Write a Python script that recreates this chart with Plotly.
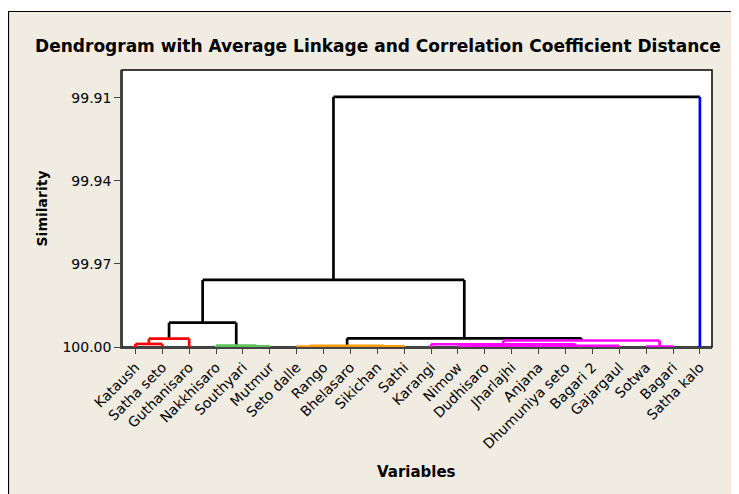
import plotly.graph_objects as go

# ---------------- data ----------------
leaves = ["Kataush", "Satha seto", "Guthanisaro", "Nakkhisaro", "Southyari", "Mutmur",
          "Seto dalle", "Rango", "Bhelasaro", "Sikichan", "Sathi", "Karangi", "Nimow",
          "Dudhisaro", "Jharlajhi", "Anjana", "Dhumuniya seto", "Bagari 2", "Gajargaul",
          "Sotwa", "Bagari", "Satha kalo"]
leaf_cluster = ["red"] * 3 + ["green"] * 3 + ["orange"] * 5 + ["magenta"] * 10 + ["blue"]

# merges (n0, n1, ...) : children and similarity level
merge_children = [
    ("Kataush", "Satha seto"),      # n0
    ("n0", "Guthanisaro"),          # n1
    ("Southyari", "Mutmur"),        # n2
    ("Nakkhisaro", "n2"),           # n3
    ("n1", "n3"),                   # n4
    ("Seto dalle", "Rango"),        # n5
    ("Bhelasaro", "Sikichan"),      # n6
    ("n6", "Sathi"),                # n7
    ("n5", "n7"),                   # n8
    ("Nimow", "Dudhisaro"),         # n9
    ("n9", "Jharlajhi"),            # n10
    ("Anjana", "Dhumuniya seto"),   # n11
    ("n11", "Bagari 2"),            # n12
    ("n10", "n12"),                 # n13
    ("n13", "Gajargaul"),           # n14
    ("Karangi", "n14"),             # n15
    ("Sotwa", "Bagari"),            # n16
    ("n15", "n16"),                 # n17
    ("n8", "n17"),                  # n18
    ("n4", "n18"),                  # n19
    ("n19", "Satha kalo"),          # n20
]
merge_similarity = [99.9989, 99.9970, 99.99975, 99.9995, 99.99123,
                    99.99985, 99.99985, 99.99975, 99.9996,
                    99.99985, 99.9998, 99.99985, 99.9998, 99.99975, 99.9996, 99.9990,
                    99.99985, 99.99765,
                    99.99686, 99.9758, 99.9097]
merge_cluster = ["red", "red", "green", "green", "black",
                 "orange", "orange", "orange", "orange",
                 "magenta", "magenta", "magenta", "magenta", "magenta", "magenta", "magenta",
                 "magenta", "magenta",
                 "black", "black", "black"]

y_tickvals = [99.91, 99.94, 99.97, 100.00]
y_ticktext = ["99.91", "99.94", "99.97", "100.00"]

palette = {"red": "#FF0000", "green": "#5DC35D", "orange": "#FF9A00",
           "magenta": "#FF00FF", "blue": "#0000FF", "black": "#000000"}

# ---------------- build dendrogram segments ----------------
pos = {name: i + 1 for i, name in enumerate(leaves)}
height = {name: 100.0 for name in leaves}
segs = {c: ([], []) for c in palette}

for k, ((a, b), s, col) in enumerate(zip(merge_children, merge_similarity, merge_cluster)):
    xa, xb = pos[a], pos[b]
    sx, sy = segs[col]
    sx += [xa, xb, None]
    sy += [s, s, None]
    for ch in (a, b):
        lc = leaf_cluster[leaves.index(ch)] if ch in leaves else col
        lx, ly = segs[lc]
        lx += [pos[ch], pos[ch], None]
        ly += [s, height[ch], None]
    name = "n%d" % k
    pos[name] = (xa + xb) / 2.0
    height[name] = s

fig = go.Figure()
for col in ["black", "red", "green", "orange", "magenta", "blue"]:
    xs, ys = segs[col]
    if xs:
        fig.add_trace(go.Scatter(x=xs, y=ys, mode="lines",
                                 line=dict(color=palette[col], width=2.7),
                                 hoverinfo="skip", showlegend=False))

FONT = "DejaVu Sans"
beige = "#F0ECE2"

# plot area in figure pixels
L, R, T, B = 114, 704, 62, 339
W_, H_ = R - L, B - T

fig.update_layout(
    width=739, height=494,
    margin=dict(l=L, r=739 - R, t=T, b=494 - B),
    paper_bgcolor="white",
    plot_bgcolor="white",
    showlegend=False,
    title=dict(text="<b>Dendrogram with Average Linkage and Correlation Coefficient Distance</b>",
               x=370 / 739, xref="container", xanchor="center",
               y=1 - 38.5 / 494, yref="container", yanchor="middle",
               font=dict(family=FONT, size=17, color="black")),
    xaxis=dict(range=[0.5, 22.45], tickmode="array",
               tickvals=list(range(1, len(leaves) + 1)), ticktext=leaves,
               tickangle=-45, ticks="outside", ticklen=5, tickcolor="#444",
               showgrid=False, zeroline=False, showline=True, linecolor="#444",
               linewidth=1.5, tickfont=dict(family=FONT, size=14, color="black")),
    yaxis=dict(range=[100.0, 99.90], tickmode="array", tickvals=y_tickvals,
               ticktext=y_ticktext, ticks="outside", ticklen=6, tickcolor="#444",
               showgrid=False, zeroline=False, showline=True, linecolor="#444",
               linewidth=1.5, tickfont=dict(family=FONT, size=14, color="black")),
    shapes=[
        dict(type="rect", xref="paper", yref="paper", layer="below",
             x0=(0.5 - L) / W_, x1=(780 - L) / W_,
             y0=1 + (T - 3.5) / H_, y1=(B - 540) / H_,
             fillcolor=beige, line=dict(color="black", width=1.2)),
        dict(type="rect", xref="paper", yref="paper", layer="below",
             x0=0, x1=1, y0=0, y1=1,
             fillcolor="white", line=dict(color="black", width=1.5)),
    ],
    annotations=[
        dict(text="<b>Similarity</b>", xref="paper", yref="paper",
             x=(33 - L) / W_, y=0.5, textangle=-90, showarrow=False,
             xanchor="center", yanchor="middle",
             font=dict(family=FONT, size=14, color="black")),
        dict(text="<b>Variables</b>", xref="paper", yref="paper",
             x=(408 - L) / W_, y=(B - 464) / H_, showarrow=False,
             xanchor="center", yanchor="middle",
             font=dict(family=FONT, size=15, color="black")),
    ],
)

fig.write_html("out.html", config={"displayModeBar": False})
